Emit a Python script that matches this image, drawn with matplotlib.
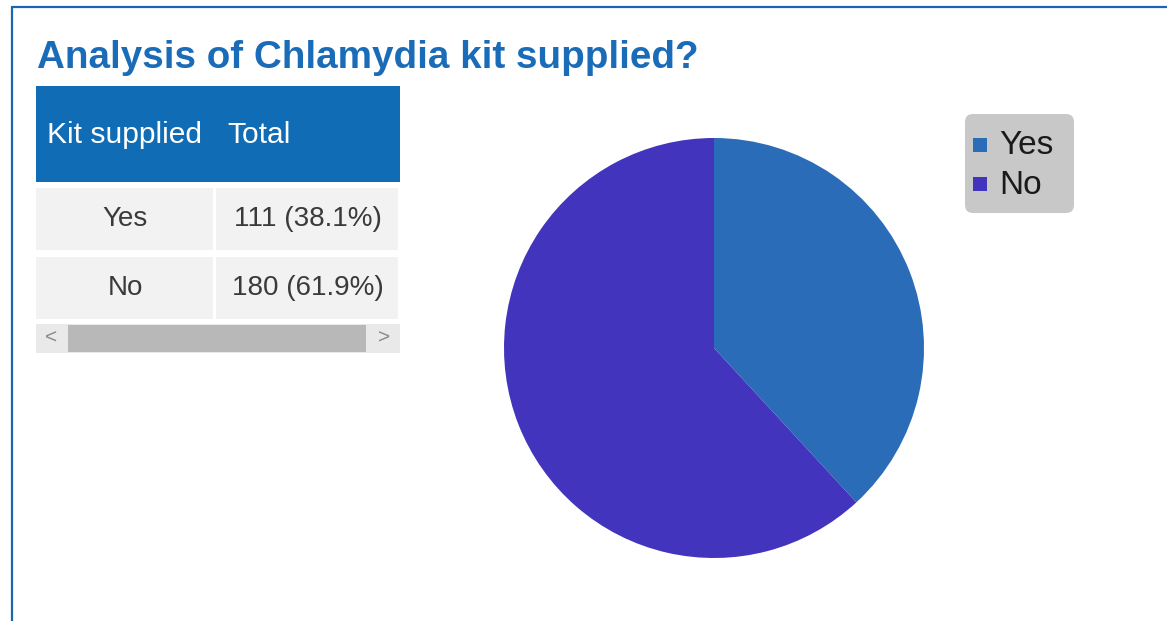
import matplotlib.pyplot as plt
from matplotlib.patches import Rectangle, FancyBboxPatch

plt.rcParams['font.family'] = ['Liberation Sans', 'DejaVu Sans']

# data
categories = ['Yes', 'No']
counts = [111, 180]
colors = ['#2b6cb8', '#4334bd']
title = 'Analysis of Chlamydia kit supplied?'
header = ['Kit supplied', 'Total']

total = sum(counts)
cell_text = ['%d (%.1f%%)' % (c, 100.0 * c / total) for c in counts]

W, H = 1167, 621
fig = plt.figure(figsize=(W / 100, H / 100), dpi=100)

# background axes in pixel coordinates
bg = fig.add_axes([0, 0, 1, 1])
bg.set_xlim(0, W)
bg.set_ylim(H, 0)
bg.axis('off')

# blue frame lines
bg.plot([11.5, 11.5], [6, H], color='#1a66b5', lw=1.6, solid_capstyle='butt')
bg.plot([11.5, W], [6.5, 6.5], color='#1a66b5', lw=1.6, solid_capstyle='butt')

bg.text(37, 68, title, fontsize=27.8, fontweight='bold', color='#1b6cb8',
        va='baseline', ha='left')

# table
bg.add_patch(Rectangle((36, 86), 364, 96, color='#106db5', lw=0))
bg.text(47, 135, header[0], color='white', fontsize=21.6, va='center')
bg.text(227, 135, header[1], color='white', fontsize=21.6, va='center')

row_top = [188, 257]
for i, cat in enumerate(categories):
    y0 = row_top[i]
    bg.add_patch(Rectangle((36, y0), 177, 62, color='#f2f2f2', lw=0))
    bg.add_patch(Rectangle((216, y0), 182, 62, color='#f2f2f2', lw=0))
    bg.text(125, y0 + 31, cat, color='#3a3a3a', fontsize=20, ha='center', va='center')
    bg.text(308, y0 + 31, cell_text[i], color='#3a3a3a', fontsize=20, ha='center', va='center')

# scrollbar
bg.add_patch(Rectangle((36, 324), 364, 29, color='#e9e9e9', lw=0))
bg.add_patch(Rectangle((68, 325), 298, 27, color='#b8b8b8', lw=0))
bg.text(51, 338, '<', color='#8a8a8a', fontsize=15, ha='center', va='center')
bg.text(384, 338, '>', color='#8a8a8a', fontsize=15, ha='center', va='center')

# pie
cx, cy, r = 714, 348, 210
pax = fig.add_axes([(cx - r) / W, (H - cy - r) / H, 2 * r / W, 2 * r / H])
wedges, _ = pax.pie(counts, colors=colors, startangle=90, counterclock=False,
                    radius=1, wedgeprops=dict(linewidth=0))
pax.set_xlim(-1, 1)
pax.set_ylim(-1, 1)
pax.set_aspect('auto')
pax.axis('off')

# legend box drawn by hand
bg.add_patch(FancyBboxPatch((965 + 8, 114 + 8), 109 - 16, 99 - 16,
                            boxstyle='round,pad=8', facecolor='#c8c8c8',
                            edgecolor='none'))
for i, cat in enumerate(categories):
    ym = 145 + i * 39
    bg.add_patch(Rectangle((973, ym - 7), 14, 14, color=colors[i], lw=0))
    bg.text(999, ym + 1, cat, color='#1a1a1a', fontsize=24, ha='left', va='center')

fig.savefig('out.png', dpi=100)
